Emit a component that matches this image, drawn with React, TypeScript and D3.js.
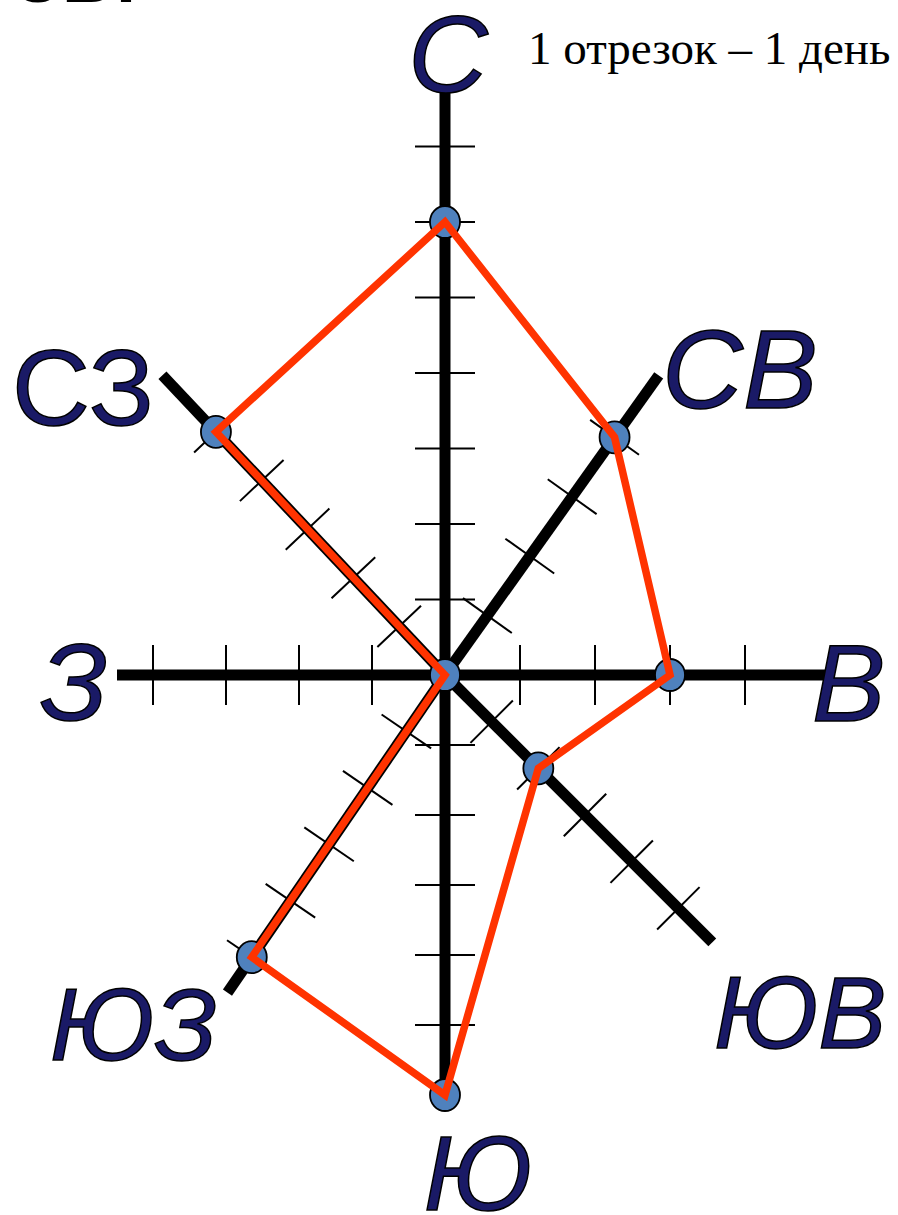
import React from "react";
import * as d3 from "d3";

// wind rose: days with wind from each direction
const directions = ["С", "СВ", "В", "ЮВ", "Ю", "ЮЗ", "З", "СЗ"];
const days = [6, 4, 3, 2, 6, 5, 0, 5];
const tickCounts = [7, 4, 4, 5, 5, 5, 4, 5];
const note = "1 отрезок – 1 день";
const heading = "СВ:";

// geometry of the (hand drawn) axes: angle in degrees, px per day, axis length
const axisAngle = [90, 54.5, 0, -45, -90, -124.4, 180, 133.3];
const axisUnit = [75.5, 73, 75, 66, 70, 68.4, 73, 66.8];
const axisLength = [590, 368, 387, 378, 415, 385, 328, 412];

const labelPos = [
  { x: 448, y: 92, anchor: "middle", italic: true, size: 110 },
  { x: 662, y: 408, anchor: "start", italic: true, size: 112 },
  { x: 812, y: 721, anchor: "start", italic: true, size: 110 },
  { x: 714, y: 1048, anchor: "start", italic: true, size: 102 },
  { x: 478, y: 1210, anchor: "middle", italic: true, size: 106 },
  { x: 50, y: 1060, anchor: "start", italic: true, size: 102 },
  { x: 40, y: 720, anchor: "start", italic: true, size: 110 },
  { x: 12, y: 425, anchor: "start", italic: false, size: 108 },
];

const W = 898;
const H = 1215;
const cx = 445;
const cy = 675;
const tickHalf = 30;

function pt(angleDeg: number, r: number): [number, number] {
  const a = (angleDeg * Math.PI) / 180;
  return [cx + r * Math.cos(a), cy - r * Math.sin(a)];
}

export default function App() {
  const scales = directions.map((_, i) =>
    d3.scaleLinear().domain([0, 1]).range([0, axisUnit[i]])
  );

  const points = directions.map((_, i) => pt(axisAngle[i], scales[i](days[i])));
  const line = d3.line().curve(d3.curveLinearClosed);

  return (
    <div style={{ position: "absolute", left: 0, top: 0 }}>
      <svg width={W} height={H} style={{ display: "block", background: "#fff" }}>
        <text x={10} y={2} fontFamily="Liberation Sans, Arial, sans-serif" fontWeight="bold" fontSize={72} fill="#000">
          {heading}
        </text>

        {/* axes */}
        {directions.map((d, i) => {
          const [x2, y2] = pt(axisAngle[i], axisLength[i]);
          return <line key={"ax" + d} x1={cx} y1={cy} x2={x2} y2={y2} stroke="#000" strokeWidth={11} />;
        })}

        {/* ticks, one segment per day */}
        {directions.map((d, i) => {
          const ticks = d3.range(1, tickCounts[i] + 1);
          const perp = axisAngle[i] + 90;
          return ticks.map((k) => {
            const [x, y] = pt(axisAngle[i], scales[i](k));
            const a = (perp * Math.PI) / 180;
            const dx = tickHalf * Math.cos(a);
            const dy = -tickHalf * Math.sin(a);
            return (
              <line key={"t" + d + k} x1={x - dx} y1={y - dy} x2={x + dx} y2={y + dy} stroke="#000" strokeWidth={2} />
            );
          });
        })}

        {/* dots */}
        {points.map((p, i) => (
          <ellipse key={"p" + i} cx={p[0]} cy={p[1]} rx={15} ry={16} fill="#4f81bd" stroke="#000" strokeWidth={1.8} />
        ))}

        {/* rose polygon */}
        <path d={line(points as [number, number][]) || ""} fill="none" stroke="#ff3300" strokeWidth={7.5} strokeLinejoin="miter" />

        {/* direction labels */}
        {directions.map((d, i) => (
          <text
            key={"l" + d}
            x={labelPos[i].x}
            y={labelPos[i].y}
            textAnchor={labelPos[i].anchor as any}
            fontFamily="Liberation Sans, Arial, sans-serif"
            fontStyle={labelPos[i].italic ? "italic" : "normal"}
            fontSize={labelPos[i].size}
            fill="#1a1a66"
            stroke="#000"
            strokeWidth={1.5}
          >
            {d}
          </text>
        ))}

        <text x={528} y={64} fontFamily="Liberation Serif, Times New Roman, serif" fontSize={47} fill="#000">
          {note}
        </text>
      </svg>
    </div>
  );
}
